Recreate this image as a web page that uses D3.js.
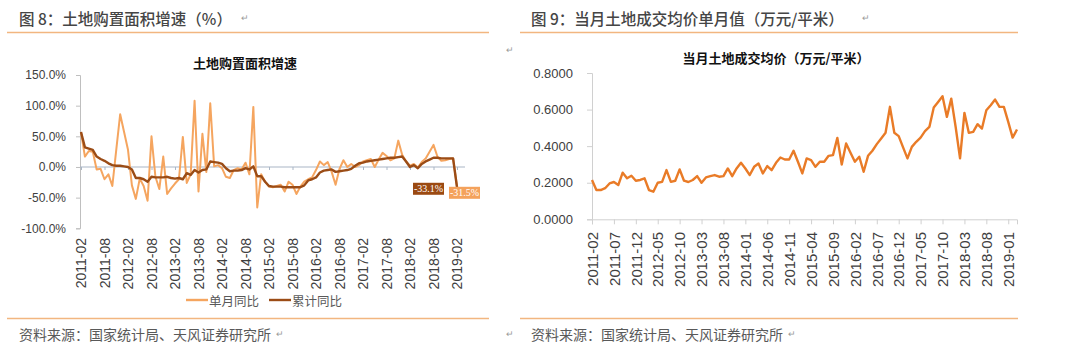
<!DOCTYPE html>
<html lang="zh">
<head>
<meta charset="utf-8"/>
<script src="https://d3js.org/d3.v7.min.js"></script>
<style>
  body { margin: 0; background: #fff; }
  svg text { font-family: "Liberation Sans", Arial, sans-serif; }
  svg text.cjk { font-family: "Noto Sans CJK SC", sans-serif; }
</style>
</head>
<body>
<div id="chart"></div>
<script>
// 土地购置面积增速 (%), monthly 2011-02 .. 2019-02
var landMonthly = [
  57, 17, 26, 25, -4, -3, -20, -12, -31, 28,
  86, 57, 28, -30, -52, -19, -31, -55, 50, -16,
  -36, 17, -44, -35, -27, -20, 49, -26, -12, 108,
  -40, 54, -8, 104, 1, 3, -2, -16, -18, -5,
  -2, -4, 7, -12, 98, -66, -12, -24, -32, -33,
  -31, -29, -40, -24, -29, -44, -32, -24, -20, -17,
  -5, 9, 3, 8, -8, -29, -3, 11, 0, 5,
  0, 3, 9, 11, 13, 0, 12, 23, 18, 11,
  14, 43, 20, 9, 2, 5, -1, 8, 14, 25,
  36, 17, 10, 11, 13, 14, -31.5
];
var landCumulative = [
  57, 32, 30, 28, 17, 13, 10, 6, 3, 2,
  2, 1, 0, -4, -18, -18, -20, -24, -16, -17,
  -17, -17, -16, -18, -19, -18, -20, -10, -13, -5,
  -9, -5, -4, 9, 8, 7, 5, -2, -7, -6,
  -6, -5, -2, -4, 1, -15, -15, -24, -31, -32,
  -32, -32, -33, -33, -33, -33, -33, -30, -22, -20,
  -17, -9, -6, -5, -4, -8, -7, -6, -5, -3,
  2, 6, 7, 9, 10, 11, 12, 13, 14, 15,
  15, 16, 17, 9, 0, 3, -2, 5, 9, 12,
  15, 15, 14, 14, 14, 14, -33.1
];
var leftTicks = ["2011-02","2011-08","2012-02","2012-08","2013-02","2013-08","2014-02","2014-08",
  "2015-02","2015-08","2016-02","2016-08","2017-02","2017-08","2018-02","2018-08","2019-02"];
var leftYTicks = [-100, -50, 0, 50, 100, 150];

// 当月土地成交均价 (万元/平米), monthly 2011-02 .. 2019-03
var landPrice = [
  0.215, 0.160, 0.160, 0.170, 0.196, 0.204, 0.187, 0.255, 0.224, 0.238,
  0.211, 0.215, 0.224, 0.160, 0.151, 0.200, 0.205, 0.269, 0.205, 0.211,
  0.273, 0.211, 0.204, 0.215, 0.236, 0.200, 0.229, 0.236, 0.242, 0.233,
  0.236, 0.278, 0.236, 0.278, 0.309, 0.278, 0.242, 0.287, 0.305, 0.251,
  0.291, 0.269, 0.309, 0.338, 0.327, 0.327, 0.375, 0.315, 0.251, 0.333,
  0.324, 0.287, 0.315, 0.315, 0.347, 0.351, 0.445, 0.300, 0.415, 0.364,
  0.315, 0.342, 0.260, 0.347, 0.375, 0.411, 0.442, 0.473, 0.615, 0.473,
  0.455, 0.393, 0.333, 0.396, 0.424, 0.447, 0.482, 0.505, 0.611, 0.642,
  0.673, 0.560, 0.660, 0.505, 0.333, 0.582, 0.473, 0.478, 0.520, 0.496,
  0.596, 0.624, 0.655, 0.615, 0.615, 0.533, 0.447, 0.491
];
var rightTicks = ["2011-02","2011-07","2011-12","2012-05","2012-10","2013-03","2013-08","2014-01",
  "2014-06","2014-11","2015-04","2015-09","2016-02","2016-07","2016-12","2017-05","2017-10",
  "2018-03","2018-08","2019-01"];
var rightYTicks = [0, 0.2, 0.4, 0.6, 0.8];

function monthList(year, month, n) {
  var out = [];
  for (var i = 0; i < n; i++) {
    var m = month - 1 + i;
    var y = year + Math.floor(m / 12);
    out.push(y + "-" + String(m % 12 + 1).padStart(2, "0"));
  }
  return out;
}
var leftMonths = monthList(2011, 2, landMonthly.length);
var rightMonths = monthList(2011, 2, landPrice.length);

var svg = d3.select("#chart").append("svg")
  .attr("width", 1080).attr("height", 353);

var ruleColor = "#F2B680", textGrey = "#595959", tickText = "#404040";

function retMark(x, y) {
  svg.append("text").attr("x", x).attr("y", y).attr("dy", "0.35em")
    .style("font-size", "9px").style("fill", "#9a9a9a").text("↵");
}

// ---- frame: headers, rules, footers
[[7, 489, 19, "图 8：土地购置面积增速（%）", 241], [520, 1018, 531, "图 9：当月土地成交均价单月值（万元/平米）", 862]]
  .forEach(function (p) {
    svg.append("line").attr("x1", p[0]).attr("x2", p[1]).attr("y1", 32.5).attr("y2", 32.5)
      .style("stroke", ruleColor).style("stroke-width", 1.3);
    svg.append("line").attr("x1", p[0]).attr("x2", p[1]).attr("y1", 318.5).attr("y2", 318.5)
      .style("stroke", ruleColor).style("stroke-width", 1.3);
    svg.append("text").attr("class", "cjk").attr("x", p[2]).attr("y", 18)
      .attr("dominant-baseline", "central")
      .style("font-size", "15.5px").style("font-weight", 500).style("fill", "#454545").text(p[3]);
    retMark(p[4], 18);
    svg.append("text").attr("class", "cjk").attr("x", p[2]).attr("y", 334)
      .attr("dominant-baseline", "central")
      .style("font-size", "14px").style("fill", textGrey).text("资料来源：国家统计局、天风证券研究所");
    retMark(p[2] + 257, 334);
  });
retMark(506, 50);
retMark(506, 334);

// ---- left chart
var xL = d3.scalePoint().domain(leftMonths).range([81, 457]);
var yL = d3.scaleLinear().domain([-100, 150]).range([228.3, 75]);

svg.append("text").attr("class", "cjk").attr("x", 245).attr("y", 62)
  .attr("text-anchor", "middle").attr("dominant-baseline", "central")
  .style("font-size", "13px").style("font-weight", "bold").style("fill", "#111").text("土地购置面积增速");

var yAxisL = svg.append("g").attr("transform", "translate(80,0)")
  .call(d3.axisLeft(yL).tickValues(leftYTicks).tickSize(4).tickPadding(10)
    .tickFormat(function (d) { return d.toFixed(1) + "%"; }));
yAxisL.selectAll("path, line").style("stroke", "#BFBFBF");
yAxisL.selectAll("text").style("font-size", "12px").style("fill", tickText);

svg.append("line").attr("x1", 80).attr("x2", 465).attr("y1", yL(0)).attr("y2", yL(0))
  .style("stroke", "#A9B6C6").style("stroke-width", 1.2);
var zeroTicks = svg.append("g").attr("transform", "translate(0," + yL(0) + ")")
  .call(d3.axisBottom(xL).tickValues(leftTicks).tickSize(3).tickFormat(""));
zeroTicks.select(".domain").remove();
zeroTicks.selectAll("line").style("stroke", "#A9B6C6");

var xLabL = svg.append("g").attr("transform", "translate(0,238)")
  .call(d3.axisBottom(xL).tickValues(leftTicks).tickSize(0));
xLabL.select(".domain").remove();
xLabL.selectAll("text")
  .attr("x", 0).attr("y", 0).attr("dy", "0.35em")
  .attr("transform", "rotate(-90)").attr("text-anchor", "end")
  .style("font-size", "14px").style("fill", tickText);

var lineL = function (vals) {
  return d3.line().x(function (d, i) { return xL(leftMonths[i]); }).y(function (d) { return yL(d); })(vals);
};
svg.append("path").attr("d", lineL(landMonthly))
  .style("fill", "none").style("stroke", "#F5A55F").style("stroke-width", 2).style("stroke-linejoin", "round");
svg.append("path").attr("d", lineL(landCumulative))
  .style("fill", "none").style("stroke", "#9B4C16").style("stroke-width", 2.4).style("stroke-linejoin", "round");

// end labels
var lastM = leftMonths[leftMonths.length - 1];
var lastCum = landCumulative[landCumulative.length - 1];
var lastMon = landMonthly[landMonthly.length - 1];
[[lastCum, "#9B4A12", xL(lastM) - 44, yL(lastCum) - 4.5],
 [lastMon, "#F4A25C", xL(lastM) - 8, yL(lastMon) + 0.5]].forEach(function (b) {
  svg.append("rect").attr("x", b[2]).attr("y", b[3]).attr("width", 31).attr("height", 12).style("fill", b[1]);
  svg.append("text").attr("x", b[2] + 15.5).attr("y", b[3] + 6).attr("dy", "0.35em")
    .attr("text-anchor", "middle")
    .style("font-family", "'Liberation Serif', 'Times New Roman', serif")
    .style("font-size", "10px").style("fill", "#fff").text(b[0].toFixed(1) + "%");
});

// legend
[["单月同比", "#F5A55F", 186], ["累计同比", "#9B4C16", 269]].forEach(function (l) {
  svg.append("line").attr("x1", l[2]).attr("x2", l[2] + 22).attr("y1", 300).attr("y2", 300)
    .style("stroke", l[1]).style("stroke-width", 2.4);
  svg.append("text").attr("class", "cjk").attr("x", l[2] + 23).attr("y", 300)
    .attr("dominant-baseline", "central")
    .style("font-size", "12.5px").style("fill", textGrey).text(l[0]);
});

// ---- right chart
var xR = d3.scalePoint().domain(rightMonths).range([592, 1017]);
var yR = d3.scaleLinear().domain([0, 0.8]).range([219.3, 73]);

svg.append("text").attr("class", "cjk").attr("x", 776).attr("y", 57)
  .attr("text-anchor", "middle").attr("dominant-baseline", "central")
  .style("font-size", "13px").style("font-weight", "bold").style("fill", "#111").text("当月土地成交均价（万元/平米）");

var yAxisR = svg.append("g").attr("transform", "translate(592,0)")
  .call(d3.axisLeft(yR).tickValues(rightYTicks).tickSize(5).tickPadding(14).tickFormat(d3.format(".4f")));
yAxisR.selectAll("path, line").style("stroke", "#D0D0D0");
yAxisR.selectAll("text").style("font-size", "13px").style("fill", tickText);

var xAxisR = svg.append("g").attr("transform", "translate(0," + yR(0) + ")")
  .call(d3.axisBottom(xR).tickValues(rightTicks).tickSize(5).tickFormat(""));
xAxisR.selectAll("path, line").style("stroke", "#D0D0D0");

var xLabR = svg.append("g").attr("transform", "translate(0,232)")
  .call(d3.axisBottom(xR).tickValues(rightTicks).tickSize(0));
xLabR.select(".domain").remove();
xLabR.selectAll("text")
  .attr("x", 0).attr("y", 0).attr("dy", "0.35em")
  .attr("transform", "rotate(-90)").attr("text-anchor", "end")
  .style("font-size", "15px").style("fill", tickText);

svg.append("path")
  .attr("d", d3.line().x(function (d, i) { return xR(rightMonths[i]); }).y(function (d) { return yR(d); })(landPrice))
  .style("fill", "none").style("stroke", "#E97B27").style("stroke-width", 2.4).style("stroke-linejoin", "round");
</script>
</body>
</html>
